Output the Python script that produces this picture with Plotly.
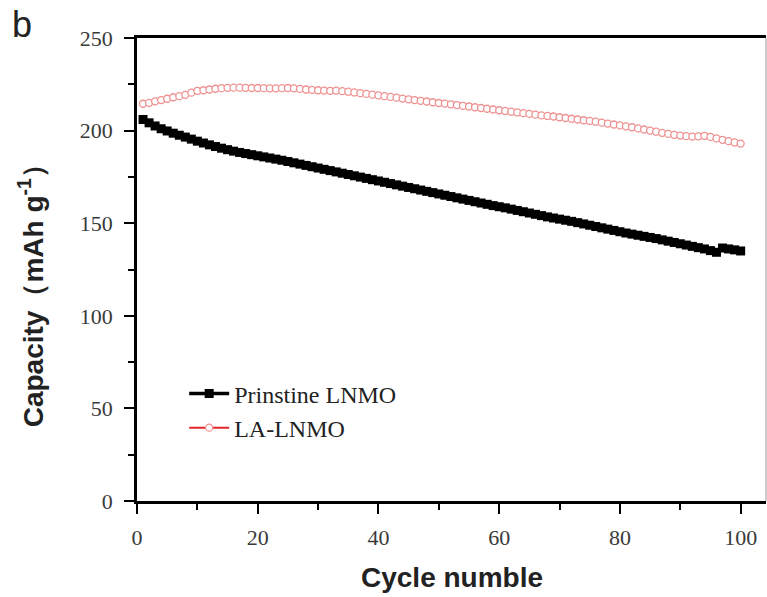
import plotly.graph_objects as go

cycles = list(range(1, 101))

pristine_lnmo = [
    206.0, 204.2, 202.5, 201.0, 199.8, 198.6, 197.5, 196.5, 195.4, 194.3,
    193.3, 192.3, 191.4, 190.5, 189.7, 188.9, 188.2, 187.6, 187.0, 186.4,
    185.8, 185.2, 184.6, 184.0, 183.3, 182.6, 181.9, 181.2, 180.5, 179.8,
    179.1, 178.4, 177.7, 177.0, 176.3, 175.6, 174.9, 174.2, 173.5, 172.8,
    172.1, 171.4, 170.7, 170.0, 169.3, 168.6, 167.9, 167.2, 166.5, 165.8,
    165.1, 164.4, 163.7, 163.0, 162.3, 161.6, 160.9, 160.2, 159.5, 158.9,
    158.3, 157.6, 156.9, 156.2, 155.5, 154.8, 154.1, 153.4, 152.8, 152.2,
    151.6, 151.0, 150.3, 149.6, 148.9, 148.2, 147.5, 146.8, 146.1, 145.4,
    144.7, 144.1, 143.5, 142.9, 142.3, 141.7, 141.0, 140.3, 139.6, 138.9,
    138.2, 137.5, 136.8, 136.1, 135.2, 134.3, 136.6, 136.1, 135.6, 135.0,
]

la_lnmo = [
    214.5, 215.0, 215.8, 216.5, 217.2, 218.0, 218.6, 219.3, 220.5, 221.5,
    221.8, 222.2, 222.6, 222.9, 223.1, 223.2, 223.2, 223.1, 223.0, 223.0,
    222.9, 222.8, 222.8, 222.9, 223.0, 222.8, 222.5, 222.2, 222.0, 221.8,
    221.6, 221.5, 221.6, 221.3, 221.0, 220.6, 220.2, 219.8, 219.4, 219.0,
    218.6, 218.2, 217.8, 217.3, 216.9, 216.5, 216.1, 215.7, 215.3, 214.9,
    214.6, 214.2, 213.8, 213.4, 213.0, 212.6, 212.2, 211.8, 211.4, 211.0,
    210.6, 210.2, 209.8, 209.4, 209.0, 208.6, 208.2, 207.9, 207.6, 207.2,
    206.8, 206.4, 206.0, 205.6, 205.2, 204.8, 204.3, 203.8, 203.3, 202.8,
    202.3, 201.8, 201.2, 200.6, 200.0, 199.4, 198.8, 198.2, 197.7, 197.3,
    197.0, 196.8, 196.9, 197.2, 196.6, 195.8, 195.0, 194.3, 193.6, 193.0,
]

x_ticks = [0, 20, 40, 60, 80, 100]
y_ticks = [0, 50, 100, 150, 200, 250]

serif = "Liberation Serif, Times New Roman, serif"
sans = "Liberation Sans, Arial, sans-serif"

fig = go.Figure()
fig.add_trace(go.Scatter(
    x=cycles, y=pristine_lnmo, mode="lines+markers", name="Prinstine LNMO",
    line=dict(color="black", width=3.5),
    marker=dict(symbol="square", size=9, color="black", line=dict(width=0)),
))
fig.add_trace(go.Scatter(
    x=cycles, y=la_lnmo, mode="lines+markers", name="LA-LNMO",
    line=dict(color="#e3262b", width=2),
    marker=dict(symbol="circle", size=7, color="white",
                line=dict(color="#ef9090", width=1.3)),
))

axis_common = dict(
    showgrid=False, zeroline=False, showline=True, linecolor="black",
    linewidth=2.5, ticks="outside", ticklen=10, tickwidth=2, tickcolor="black",
    tickfont=dict(family=serif, size=22, color="#3a3a3a"),
)

fig.update_layout(
    width=767, height=597,
    margin=dict(l=137, r=1, t=38, b=96),
    paper_bgcolor="white", plot_bgcolor="white",
    showlegend=True,
    legend=dict(x=0.075, y=0.28, xanchor="left", yanchor="top",
                bgcolor="rgba(0,0,0,0)", font=dict(family=serif, size=24, color="#222"),
                tracegroupgap=0, itemwidth=40),
    xaxis=dict(range=[0, 104.2], tickvals=x_ticks, mirror=True, ticklabelstandoff=5,
               minor=dict(dtick=10, ticklen=6, tickwidth=2, tickcolor="black", ticks="outside"),
               **axis_common),
    yaxis=dict(range=[0, 250], tickvals=y_ticks, mirror=False, ticklabelstandoff=7,
               minor=dict(dtick=25, ticklen=6, tickwidth=2, tickcolor="black", ticks="outside"),
               **axis_common),
    shapes=[dict(type="line", xref="paper", yref="paper", x0=1, x1=1, y0=0, y1=1,
                 line=dict(color="#b8b8b8", width=1.5))],
    annotations=[
        dict(text="b", xref="paper", yref="paper", x=-0.183, y=1.03,
             xanchor="center", yanchor="middle", showarrow=False,
             font=dict(family=sans, size=36, color="#222")),
        dict(text="Cycle numble", xref="paper", yref="paper", x=0.5, y=-0.166,
             xanchor="center", yanchor="middle", showarrow=False,
             font=dict(family=sans, size=28, color="#222", weight="bold")),
        dict(text="Capacity（mAh g<sup>-1</sup>）", xref="paper", yref="paper",
             x=-0.168, y=0.458, textangle=-90,
             xanchor="center", yanchor="middle", showarrow=False,
             font=dict(family=sans, size=28, color="#222", weight="bold")),
    ],
)

fig.write_html("out.html")
